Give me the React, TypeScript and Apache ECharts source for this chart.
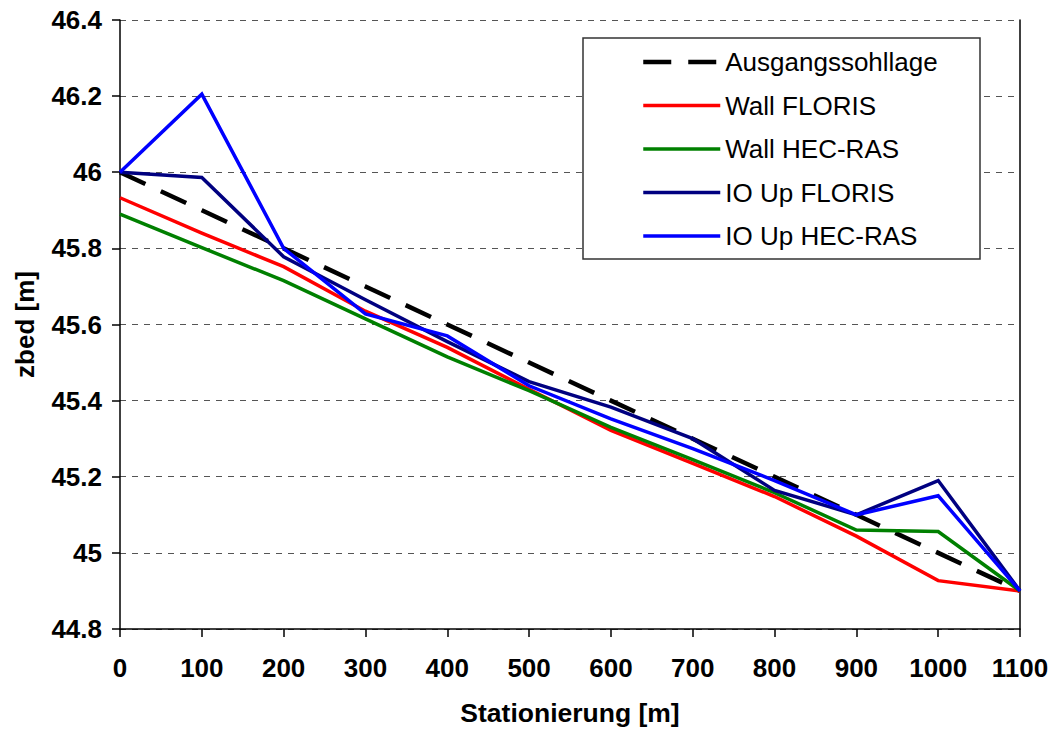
import React, { useEffect, useRef } from "react";
import * as echarts from "echarts";

// Stationierung in m
const stations = [0, 100, 200, 300, 400, 500, 600, 700, 800, 900, 1000, 1100];

// Sohlhöhen zbed in m
const ausgangssohllage = [46.0, 45.9, 45.8, 45.7, 45.6, 45.5, 45.4, 45.3, 45.2, 45.1, 45.0, 44.9];
const wallFloris = [45.933, 45.84, 45.752, 45.635, 45.54, 45.43, 45.322, 45.235, 45.148, 45.044, 44.927, 44.9];
const wallHecRas = [45.89, 45.802, 45.715, 45.615, 45.515, 45.426, 45.33, 45.245, 45.158, 45.06, 45.056, 44.9];
const ioUpFloris = [46.0, 45.986, 45.778, 45.665, 45.555, 45.45, 45.383, 45.3, 45.164, 45.1, 45.19, 44.9];
const ioUpHecRas = [46.0, 46.205, 45.8, 45.628, 45.57, 45.439, 45.352, 45.274, 45.19, 45.1, 45.15, 44.9];

const seriesNames = ["Ausgangssohllage", "Wall FLORIS", "Wall HEC-RAS", "IO Up FLORIS", "IO Up HEC-RAS"];
const seriesValues = [ausgangssohllage, wallFloris, wallHecRas, ioUpFloris, ioUpHecRas];
const seriesColors = ["#000000", "#ff0000", "#008000", "#000080", "#0000ff"];

const FONT = "'Liberation Sans', Arial, Helvetica, sans-serif";

export default function App() {
  const ref = useRef<HTMLDivElement>(null);

  useEffect(() => {
    if (!ref.current) return;
    const chart = echarts.init(ref.current, undefined, { renderer: "svg" });

    const lineStyleFor = (i: number) => ({
      color: seriesColors[i],
      width: i === 0 ? 4.5 : 3.5,
      type: i === 0 ? [28, 17] : "solid",
      cap: "butt",
      join: "miter",
    });

    const series = seriesNames.map((name, i) => ({
      name,
      type: "line",
      data: stations.map((s, j) => [s, seriesValues[i][j]]),
      symbol: "none",
      showSymbol: false,
      z: 2 + i,
      lineStyle: lineStyleFor(i),
      itemStyle: { color: seriesColors[i] },
    }));

    chart.setOption({
      animation: false,
      backgroundColor: "#ffffff",
      textStyle: { fontFamily: FONT },
      grid: { left: 120, right: 33, top: 20, bottom: 99, containLabel: false },
      xAxis: {
        type: "value",
        min: 0,
        max: 1100,
        interval: 100,
        name: "Stationierung [m]",
        nameLocation: "middle",
        nameGap: 70,
        nameTextStyle: { color: "#000", fontSize: 26.5, fontWeight: "bold", fontFamily: FONT },
        axisLine: { show: true, onZero: false, lineStyle: { color: "#000", width: 1.5 } },
        axisTick: { show: true, inside: false, length: 8, lineStyle: { color: "#000", width: 1.5 } },
        axisLabel: {
          color: "#000",
          fontSize: 26,
          fontWeight: "bold",
          margin: 26,
          fontFamily: FONT,
          formatter: (v: number) => String(v),
        },
        splitLine: { show: false },
      },
      yAxis: [
        {
          type: "value",
          min: 44.8,
          max: 46.4,
          interval: 0.2,
          name: "zbed [m]",
          nameLocation: "middle",
          nameGap: 82,
          nameTextStyle: { color: "#000", fontSize: 26, fontWeight: "bold", fontFamily: FONT },
          axisLine: { show: true, onZero: false, lineStyle: { color: "#000", width: 1.5 } },
          axisTick: { show: true, inside: false, length: 8, lineStyle: { color: "#000", width: 1.5 } },
          axisLabel: { color: "#000", fontSize: 26, fontWeight: "bold", margin: 18, fontFamily: FONT },
          splitLine: { show: true, lineStyle: { color: "#555", width: 1, type: [6, 6] } },
        },
        {
          type: "value",
          position: "right",
          min: 44.8,
          max: 46.4,
          interval: 0.2,
          axisLine: { show: true, onZero: false, lineStyle: { color: "#000", width: 1.5 } },
          axisTick: { show: false },
          axisLabel: { show: false },
          splitLine: { show: false },
        },
      ],
      legend: {
        orient: "vertical",
        left: 636,
        top: 44,
        itemWidth: 77,
        itemHeight: 20,
        itemGap: 17.5,
        z: 10,
        data: seriesNames.map((name, i) => ({
          name,
          lineStyle: { color: seriesColors[i], width: i === 0 ? 4.5 : 3.5, type: i === 0 ? [28, 17] : "solid" },
        })),
        itemStyle: { opacity: 0 },
        textStyle: { color: "#000", fontSize: 26, lineHeight: 26, fontFamily: FONT },
      },
      graphic: [
        {
          type: "rect",
          z: 9,
          shape: { x: 583, y: 38, width: 397, height: 221 },
          style: { fill: "#ffffff", stroke: "#333", lineWidth: 1.5 },
        },
      ],
      series,
    });

    return () => chart.dispose();
  }, []);

  return (
    <div
      ref={ref}
      style={{ position: "absolute", left: 0, top: 0, width: 1053, height: 731 }}
    />
  );
}
